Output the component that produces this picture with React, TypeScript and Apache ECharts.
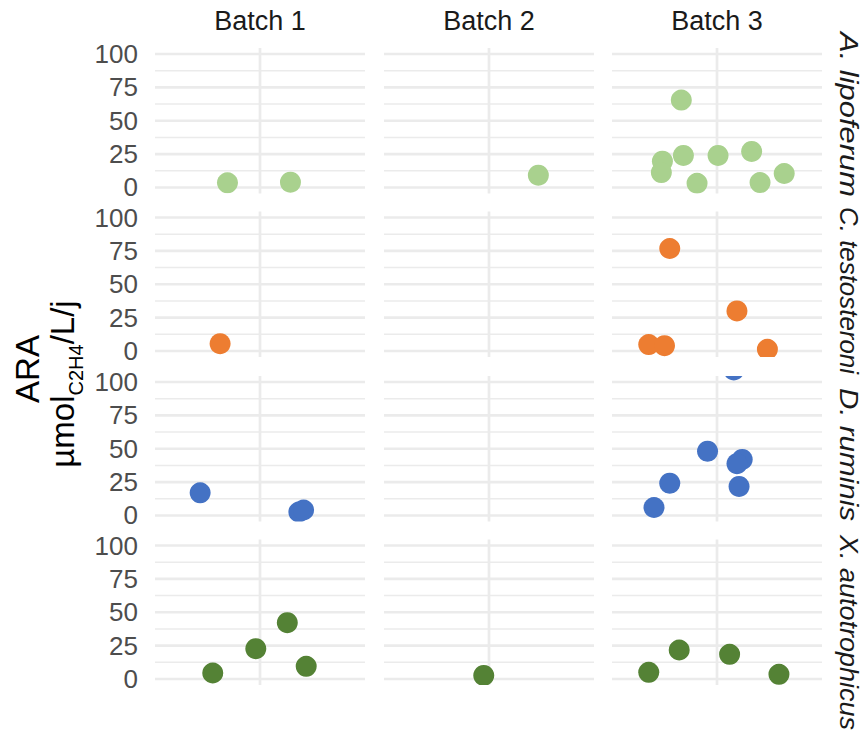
import React, { useEffect, useRef } from "react";
import * as echarts from "echarts";

const batches = ["Batch 1", "Batch 2", "Batch 3"];
const species = ["A. lipoferum", "C. testosteroni", "D. ruminis", "X. autotrophicus"];
const speciesColors = ["#a9d18e", "#ed7d31", "#4472c4", "#548235"];
const yTicks = [0, 25, 50, 75, 100];
const yMinorTicks = [12.5, 37.5, 62.5, 87.5];
const yTitle = "ARA";
const yUnitMain = "µmol";
const yUnitSub = "C2H4";
const yUnitTail = "/L/j";

// each point: [horizontal jitter within the panel (-1..1), ARA value]
const lipoferumB1 = [[-0.31, 3.5], [0.29, 4.0]];
const lipoferumB2 = [[0.47, 9.2]];
const lipoferumB3 = [
  [-0.34, 65.5], [-0.52, 19.7], [-0.53, 11.2], [-0.32, 24], [0.01, 24],
  [0.33, 27], [-0.19, 3.2], [0.41, 3.7], [0.64, 10.5],
];
const testosteroniB1 = [[-0.38, 5.5]];
const testosteroniB2: number[][] = [];
const testosteroniB3 = [[-0.45, 76.8], [0.19, 30], [-0.65, 4.8], [-0.5, 4], [0.48, 1.3]];
const ruminisB1 = [[-0.57, 17], [0.37, 2.6], [0.415, 4.1]];
const ruminisB2: number[][] = [];
const ruminisB3 = [
  [0.16, 109], [-0.09, 48.2], [0.24, 42], [0.19, 38.8], [0.21, 21.8], [-0.45, 24.2], [-0.6, 6],
];
const autotrophicusB1 = [[-0.45, 4.5], [-0.04, 22.7], [0.26, 42.2], [0.44, 9.5]];
const autotrophicusB2 = [[-0.05, 2.7]];
const autotrophicusB3 = [[-0.65, 5], [-0.36, 21.7], [0.12, 18.5], [0.59, 3.5]];

const panelData = [
  [lipoferumB1, lipoferumB2, lipoferumB3],
  [testosteroniB1, testosteroniB2, testosteroniB3],
  [ruminisB1, ruminisB2, ruminisB3],
  [autotrophicusB1, autotrophicusB2, autotrophicusB3],
];

const FONT = "'Liberation Sans', Arial, Helvetica, sans-serif";
const colLeft = [155, 384, 612];
const colWidth = 210;
const rowTop = [48, 211.5, 376, 539.5];
const rowHeight = 145.5;
const Y_MIN = -4.5;
const Y_MAX = 104.5;
// vertical extent (top, bottom) of each right-hand strip label
const stripSpans = [[32, 197], [207, 374], [388, 521], [535, 730]];

function measure(text: string, size: number, style = "normal") {
  const ctx = document.createElement("canvas").getContext("2d");
  if (!ctx) return text.length * size * 0.55;
  ctx.font = `${style} ${size}px ${FONT}`;
  return ctx.measureText(text).width;
}

export default function App() {
  const ref = useRef<HTMLDivElement>(null);

  useEffect(() => {
    document.body.style.margin = "0";
    if (!ref.current) return;
    const chart = echarts.init(ref.current, undefined, { renderer: "svg" });

    const grid: any[] = [];
    const xAxis: any[] = [];
    const yAxis: any[] = [];
    const series: any[] = [];

    const gridLineData = [
      ...yTicks.map((v) => [v, 0]),
      ...yMinorTicks.map((v) => [v, 1]),
      [0, 2],
    ];

    let idx = 0;
    species.forEach((sp, r) => {
      batches.forEach((b, c) => {
        grid.push({
          left: colLeft[c],
          top: rowTop[r],
          width: colWidth,
          height: rowHeight,
          containLabel: false,
          outerBoundsMode: "none",
        });
        xAxis.push({
          gridIndex: idx,
          type: "value",
          min: -1,
          max: 1,
          show: false,
        });
        yAxis.push({
          gridIndex: idx,
          type: "value",
          min: Y_MIN,
          max: Y_MAX,
          axisLine: { show: false },
          axisTick: { show: false },
          splitLine: { show: false },
          axisLabel: {
            show: c === 0,
            customValues: yTicks,
            fontSize: 26,
            color: "#4d4d4d",
            fontFamily: FONT,
            margin: 17,
          },
        });
        series.push({
          type: "custom",
          name: `grid-${idx}`,
          xAxisIndex: idx,
          yAxisIndex: idx,
          silent: true,
          clip: false,
          z: 1,
          data: gridLineData,
          renderItem: (params: any, api: any) => {
            const cs = params.coordSys;
            const v = api.value(0);
            const kind = api.value(1);
            if (kind === 2) {
              const px = api.coord([v, 0])[0];
              return {
                type: "line",
                shape: { x1: px, y1: cs.y, x2: px, y2: cs.y + cs.height },
                style: { stroke: "#ebebeb", lineWidth: 2.7 },
              };
            }
            const py = api.coord([0, v])[1];
            return {
              type: "line",
              shape: { x1: cs.x, y1: py, x2: cs.x + cs.width, y2: py },
              style: { stroke: "#ebebeb", lineWidth: kind === 0 ? 2.7 : 1.4 },
            };
          },
        });
        const color = speciesColors[r];
        series.push({
          type: "custom",
          name: `${sp} ${b}`,
          xAxisIndex: idx,
          yAxisIndex: idx,
          clip: true,
          z: 3,
          data: panelData[r][c],
          renderItem: (params: any, api: any) => {
            const p = api.coord([api.value(0), api.value(1)]);
            return {
              type: "circle",
              shape: { cx: p[0], cy: p[1], r: 10.5 },
              style: { fill: color },
            };
          },
        });
        idx++;
      });
    });

    const graphic: any[] = [];
    batches.forEach((b, c) => {
      graphic.push({
        type: "text",
        x: colLeft[c] + colWidth / 2,
        y: 21,
        style: {
          text: b,
          fontSize: 27,
          fontFamily: FONT,
          fill: "#1a1a1a",
          align: "center",
          verticalAlign: "middle",
        },
      });
    });
    species.forEach((sp, r) => {
      const span = stripSpans[r];
      const natural = measure(sp, 26, "italic");
      const target = span[1] - span[0];
      graphic.push({
        type: "text",
        x: 849,
        y: (span[0] + span[1]) / 2,
        rotation: -Math.PI / 2,
        scaleX: target / natural,
        style: {
          text: sp,
          fontSize: 26,
          fontStyle: "italic",
          fontFamily: FONT,
          fill: "#1a1a1a",
          align: "center",
          verticalAlign: "middle",
        },
      });
    });
    graphic.push({
      type: "text",
      x: 27.5,
      y: 369,
      rotation: Math.PI / 2,
      style: {
        text: yTitle,
        fontSize: 33,
        fontFamily: FONT,
        fill: "#000",
        align: "center",
        verticalAlign: "middle",
      },
    });

    // unit line: main text, subscript, tail — laid out along the rotated baseline
    const w1 = measure(yUnitMain, 33);
    const w2 = measure(yUnitSub, 20);
    const w3 = measure(yUnitTail, 33);
    const total = w1 + w2 + w3;
    const startY = 384 + total / 2;
    const unitParts = [
      { text: yUnitMain, size: 33, x: 62.5, y: startY },
      { text: yUnitSub, size: 20, x: 76, y: startY - w1 },
      { text: yUnitTail, size: 33, x: 62.5, y: startY - w1 - w2 },
    ];
    unitParts.forEach((p) => {
      graphic.push({
        type: "text",
        x: p.x,
        y: p.y,
        rotation: Math.PI / 2,
        style: {
          text: p.text,
          fontSize: p.size,
          fontFamily: FONT,
          fill: "#000",
          align: "left",
          verticalAlign: "middle",
        },
      });
    });

    chart.setOption({
      animation: false,
      backgroundColor: "#ffffff",
      grid,
      xAxis,
      yAxis,
      series,
      graphic,
    });

    return () => chart.dispose();
  }, []);

  return <div ref={ref} style={{ width: 864, height: 731 }} />;
}
